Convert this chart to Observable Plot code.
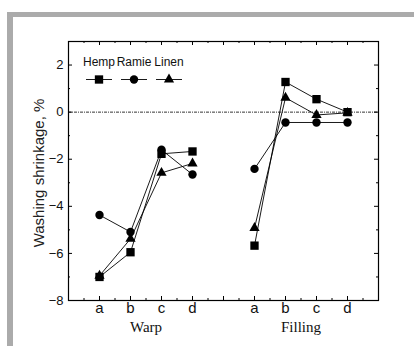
<!DOCTYPE html>
<html>
<head>
<meta charset="utf-8">
<script src="https://cdn.jsdelivr.net/npm/d3@7"></script>
<script src="https://cdn.jsdelivr.net/npm/@observablehq/plot@0.6"></script>
<style>
  body { margin: 0; background: #fff; }
  #wrap { position: relative; width: 414px; height: 346px; overflow: hidden; background: #fff; }
  #wrap svg { position: absolute; left: 0; top: 0; }
  .band { position: absolute; background: #ababab; }
  g[aria-label="legend label"] text { letter-spacing: -0.7px; font-stretch: condensed; }
</style>
</head>
<body>
<div id="wrap">
  <div class="band" style="left:7px;top:12px;width:407px;height:5px"></div>
  <div class="band" style="left:7px;top:12px;width:6px;height:334px"></div>
</div>
<script>
// Washing shrinkage (%) of hemp, ramie and linen fabrics, samples a–d,
// measured in the warp and filling directions.
const categories = ["a", "b", "c", "d"];
const groups = ["Warp", "Filling"];
const series = ["Hemp", "Ramie", "Linen"];

const hempWarp     = [-7.00, -5.95, -1.77, -1.67];
const ramieWarp    = [-4.37, -5.09, -1.60, -2.65];
const linenWarp    = [-6.95, -5.38, -2.58, -2.18];
const hempFilling  = [-5.67,  1.28,  0.55,  0.00];
const ramieFilling = [-2.41, -0.44, -0.44, -0.44];
const linenFilling = [-4.92,  0.61, -0.12, -0.03];

const yTicks = [-8, -6, -4, -2, 0, 2];

const values = {
  Hemp:  { Warp: hempWarp,  Filling: hempFilling },
  Ramie: { Warp: ramieWarp, Filling: ramieFilling },
  Linen: { Warp: linenWarp, Filling: linenFilling }
};

// Each group occupies four slots, with an empty slot between the groups.
const slot = (gi, ci) => gi * (categories.length + 1) + ci + 1;

const rows = [];
groups.forEach((g, gi) => {
  series.forEach(s => {
    categories.forEach((c, ci) => {
      rows.push({ series: s, group: g, category: c, x: slot(gi, ci), y: values[s][g][ci] });
    });
  });
});

const catTicks = [];
groups.forEach((g, gi) => categories.forEach((c, ci) => catTicks.push({ pos: slot(gi, ci), label: c })));
const groupLabels = groups.map((g, gi) => ({ label: g, pos: d3.mean(categories, (c, ci) => slot(gi, ci)) }));

const xMax = groups.length * (categories.length + 1);
const yDomain = [-8, 3];

const W = 414, H = 346;
const mL = 68, mR = 36, mT = 41, mB = 46;
const innerW = W - mL - mR, innerH = H - mT - mB;

const sans = "'Liberation Sans', Arial, sans-serif";
const narrow = "'Liberation Sans Narrow', 'Arial Narrow', 'Liberation Sans', sans-serif";
const serif = "'Liberation Serif', 'Times New Roman', serif";

const symbolRadius = { Hemp: 4.7, Ramie: 4.2, Linen: 3.8 };

// horizontal dash used in the legend keys
const dash = {
  draw(context, size) {
    const l = Math.sqrt(size / Math.PI);
    context.moveTo(-l, 0);
    context.lineTo(l, 0);
  }
};

const majorX = d3.range(0, xMax + 1, 1);
const minorX = d3.range(0.5, xMax, 1);
const majorY = d3.range(yDomain[0], yDomain[1] + 1, 2);
const minorY = d3.range(yDomain[0] + 1, yDomain[1] + 1, 2);

const legendX = i => 30.5 + 35 * i;

const marks = [
  // zero reference line
  Plot.ruleY([0], { stroke: "#000", strokeWidth: 0.8, strokeDasharray: "3,1,1,1" }),

  // inward ticks on all four sides
  Plot.tickX(majorX, { x: d => d, insetTop: innerH - 4, stroke: "#000" }),
  Plot.tickX(minorX, { x: d => d, insetTop: innerH - 2, stroke: "#000" }),
  Plot.tickX(majorX, { x: d => d, insetBottom: innerH - 4, stroke: "#000" }),
  Plot.tickX(minorX, { x: d => d, insetBottom: innerH - 2, stroke: "#000" }),
  Plot.tickY(majorY, { y: d => d, insetRight: innerW - 4, stroke: "#000" }),
  Plot.tickY(minorY, { y: d => d, insetRight: innerW - 2, stroke: "#000" }),
  Plot.tickY(majorY, { y: d => d, insetLeft: innerW - 4, stroke: "#000" }),
  Plot.tickY(minorY, { y: d => d, insetLeft: innerW - 2, stroke: "#000" }),

  Plot.frame({ stroke: "#000", strokeWidth: 1.2 }),

  // tick labels
  Plot.axisY({ ticks: yTicks, tickSize: 0, tickPadding: 5, label: null, fontSize: 13, fontFamily: sans, fill: "#111" }),
  Plot.text(catTicks, { x: "pos", text: "label", frameAnchor: "bottom", lineAnchor: "top", dy: 2, fontSize: 15, fontFamily: sans, fill: "#111" }),
  Plot.text(groupLabels, { x: "pos", text: "label", frameAnchor: "bottom", lineAnchor: "top", dy: 21, fontSize: 15, fontFamily: serif, fill: "#111" }),
  Plot.text(["Washing shrinkage, %"], { text: d => d, frameAnchor: "left", textAnchor: "middle", lineAnchor: "middle", rotate: -90, dx: -29, dy: 2, fontSize: 15, fontFamily: sans, fill: "#222" }),

  // series lines, one per series and direction
  Plot.line(rows, { x: "x", y: "y", z: d => d.series + "-" + d.group, stroke: "#000", strokeWidth: 0.9 })
];

series.forEach((s, i) => {
  marks.push(
    Plot.dot(rows.filter(d => d.series === s), { x: "x", y: "y", symbol: "series", r: symbolRadius[s], fill: "#000", stroke: "none" }),
    // legend
    Plot.text([s], { text: d => d, ariaLabel: "legend label", frameAnchor: "top-left", textAnchor: "middle", lineAnchor: "middle", dx: legendX(i), dy: 21, fontSize: 12, fontFamily: narrow, fill: "#111" }),
    Plot.dot([s], { frameAnchor: "top-left", dx: legendX(i), dy: 38, symbol: dash, r: 13, stroke: "#000", strokeWidth: 0.9, fill: "none" }),
    Plot.dot([s], { frameAnchor: "top-left", dx: legendX(i), dy: 38, symbol: d => d, r: symbolRadius[s], fill: "#000", stroke: "none" })
  );
});

const chart = Plot.plot({
  width: W,
  height: H,
  marginLeft: mL,
  marginRight: mR,
  marginTop: mT,
  marginBottom: mB,
  style: { background: "transparent", overflow: "visible" },
  x: { domain: [0, xMax], axis: null },
  y: { domain: yDomain, axis: null },
  symbol: { domain: series, range: ["square", "circle", "triangle"] },
  marks
});

document.getElementById("wrap").appendChild(chart);
</script>
</body>
</html>
